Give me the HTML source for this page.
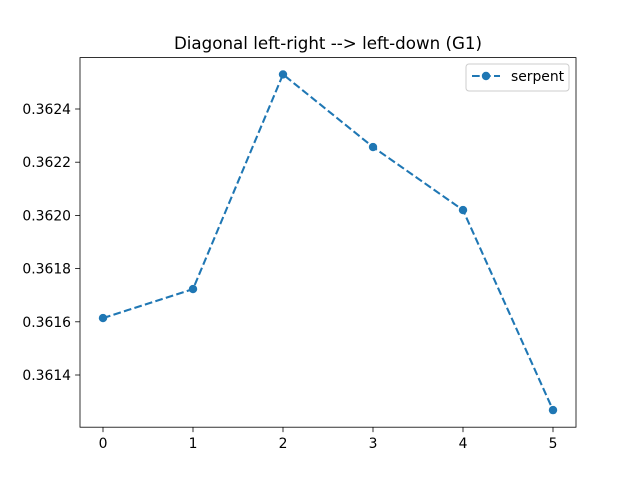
<!DOCTYPE html>
<html><head><meta charset="utf-8">
<style>
body{margin:0;background:#fff;}
text{font-family:"DejaVu Sans","Liberation Sans",sans-serif;}
</style></head>
<body>
<svg id="chart" width="640" height="480" xmlns="http://www.w3.org/2000/svg">
<rect width="640" height="480" fill="#fff"/>
<text x="328" y="49" text-anchor="middle" font-size="16.7" fill="#000">Diagonal left-right --&gt; left-down (G1)</text>
<g id="axes"></g>
<g id="series"></g>
<g>
<rect x="466" y="64" width="103" height="27" fill="#fff" stroke="#ccc" rx="3"/>
<line x1="472" y1="76" x2="500" y2="76" stroke="#1f77b4" stroke-width="2.08" stroke-dasharray="7.7,3.3"/>
<circle cx="486" cy="76" r="4.2" fill="#1f77b4"/>
<text x="511" y="81" font-size="13.9" fill="#000">serpent</text>
</g>
</svg>
<script>
const categories=[0,1,2,3,4,5];
const serpentValues=[0.361614,0.361723,0.36253,0.362257,0.36202,0.361268];
const yTicks=[0.3614,0.3616,0.3618,0.3620,0.3622,0.3624];
const xTicks=[0,1,2,3,4,5];
const L=80,R=576,T=57.6,B=427.2;
function xs(v){return 103+v*90;}
function ys(v){return 375-(v-0.3614)*266000;}
const NS="http://www.w3.org/2000/svg";
const axes=document.getElementById('axes'),ser=document.getElementById('series');
function mk(tag,attrs,parent){const e=document.createElementNS(NS,tag);for(const k in attrs)e.setAttribute(k,attrs[k]);parent.appendChild(e);return e;}
const frame=mk('rect',{x:L,y:T,width:R-L,height:B-T,fill:'none',stroke:'#000','stroke-width':0.8},axes);


xTicks.forEach(t=>{
 const x=xs(t);
 const l=mk('line',{x1:x,y1:B,x2:x,y2:B+4.9,stroke:'#000','stroke-width':0.8},axes);
 
 
 const tx=mk('text',{x:x,y:B+21,'text-anchor':'middle','font-size':13.9,fill:'#000'},axes);
 tx.textContent=t;
 
 
});
yTicks.forEach(t=>{
 const y=ys(t);
 const l=mk('line',{x1:L-4.9,y1:y,x2:L,y2:y,stroke:'#000','stroke-width':0.8},axes);
 
 
 const tx=mk('text',{x:L-9,y:y+5,'text-anchor':'end','font-size':13.9,fill:'#000'},axes);
 tx.textContent=t.toFixed(4);
 
 
});
const pts=categories.map((c,i)=>xs(c)+','+ys(serpentValues[i])).join(' ');
const pl=mk('polyline',{points:pts,fill:'none',stroke:'#1f77b4','stroke-width':2.08,'stroke-dasharray':'7.7,3.3'},ser);


categories.forEach((c,i)=>{
 const p=mk('circle',{cx:xs(c),cy:ys(serpentValues[i]),r:4.2,fill:'#1f77b4'},ser);
 
 
});
</script>
</body></html>
